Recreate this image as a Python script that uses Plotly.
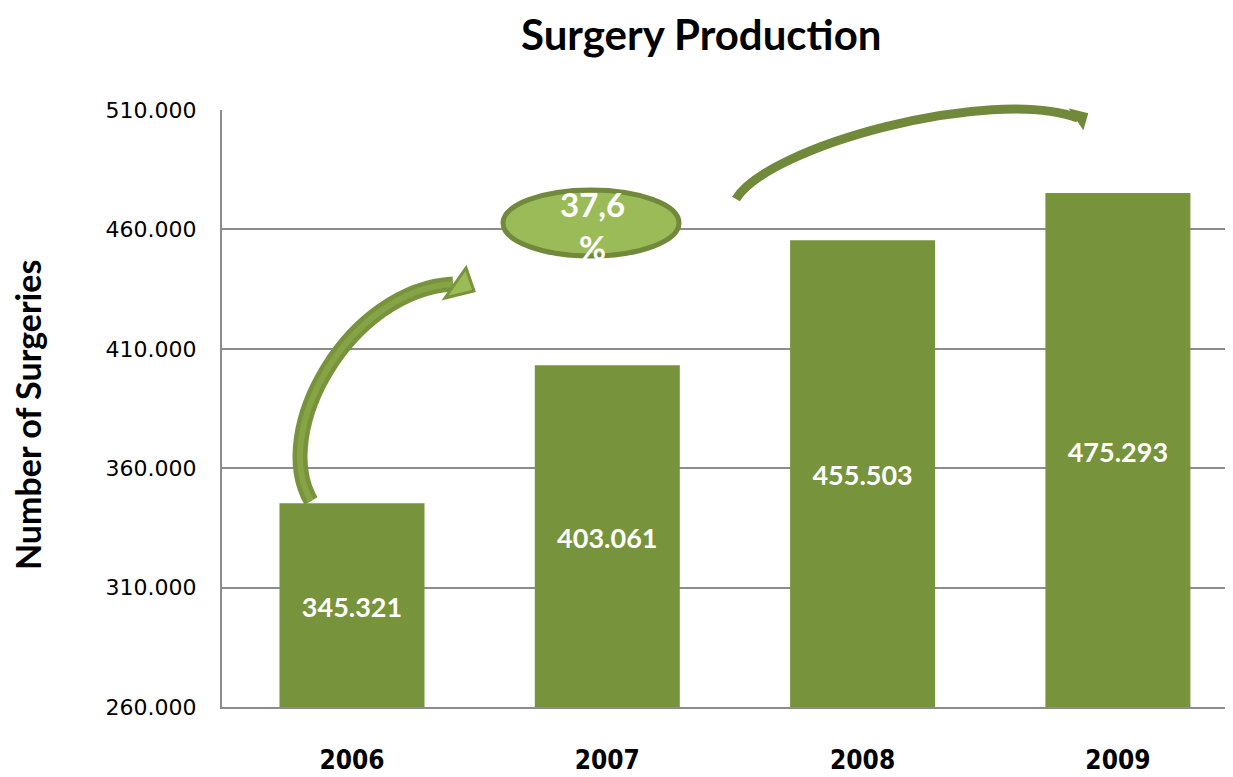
import plotly.graph_objects as go

years = ["2006", "2007", "2008", "2009"]
surgeries = [345321, 403061, 455503, 475293]
bar_labels = ["345.321", "403.061", "455.503", "475.293"]
tick_vals = [260000, 310000, 360000, 410000, 460000, 510000]
tick_text = ["260.000", "310.000", "360.000", "410.000", "460.000", "510.000"]
y_min, y_max = 260000, 510000
growth_label = "37,6<br>%"

# the page body has an 8px margin, so the figure is drawn offset by 8px
OFF = 8
W, H = 1233 - OFF, 777 - OFF
L, R, T, B = 222, 1230, 110, 707  # plot area in screenshot pixels

# category axis: slot width ~255 px, first category centred ~130 px right of the axis
CAT_W = 255.3
x_r0 = -130.0 / CAT_W
x_r1 = x_r0 + (R - L) / CAT_W

# value per pixel on the y axis (used to nudge the in-bar labels down a little)
Y_PER_PX = (y_max - y_min) / (B - T)

def px(X):
    return (X - L) / (R - L)

def py(Y):
    return (B - Y) / (B - T)

def pt(X, Y):
    return f"{px(X):.5f},{py(Y):.5f}"

BAR = "#77933C"
LIGHT = "#9BBB59"
DARK = "#71893A"

fig = go.Figure()
fig.add_trace(go.Bar(
    x=years, y=surgeries, width=145 / CAT_W, marker=dict(color=BAR, line=dict(width=0)),
    hoverinfo="x+y",
))
# value labels centred in each bar
fig.add_trace(go.Scatter(
    x=years, y=[(y_min + v) / 2 - 5 * Y_PER_PX for v in surgeries], mode="text", text=bar_labels,
    textposition="middle center", hoverinfo="skip",
    textfont=dict(family="Lato", size=27, color="white", weight="bold"),
))

shapes = []
# arrow 1 body
p1 = f"M {pt(311,501)} C {pt(270,430)} {pt(350,290)} {pt(453,284)}"
shapes.append(dict(type="path", path=p1, xref="paper", yref="paper",
                   line=dict(color=BAR, width=15), layer="above"))
shapes.append(dict(type="path", path=p1, xref="paper", yref="paper",
                   line=dict(color="#86A346", width=6), layer="above"))
shapes.append(dict(type="path", path=f"M {pt(466,268)} L {pt(474,291)} L {pt(445,298)} Z",
                   xref="paper", yref="paper", fillcolor=LIGHT,
                   line=dict(color=BAR, width=3), layer="above"))
# arrow 2
p2 = f"M {pt(736,199)} C {pt(768,146)} {pt(990,86)} {pt(1078,118)}"
shapes.append(dict(type="path", path=p2, xref="paper", yref="paper",
                   line=dict(color=DARK, width=9), layer="above"))
shapes.append(dict(type="path", path=f"M {pt(1071,110)} L {pt(1087,114)} L {pt(1083,128)} Z",
                   xref="paper", yref="paper", fillcolor=DARK,
                   line=dict(color=DARK, width=2), layer="above"))
# ellipse
shapes.append(dict(type="circle", xref="paper", yref="paper",
                   x0=px(503), x1=px(679), y0=py(256), y1=py(190),
                   fillcolor=LIGHT, line=dict(color=DARK, width=5), layer="above"))

annotations = [
    dict(text="<b>Surgery Production</b>", xref="paper", yref="paper", x=px(701), y=py(34),
         xanchor="center", yanchor="middle", showarrow=False,
         font=dict(family="Lato", size=42, color="black")),
    dict(text=growth_label, xref="paper", yref="paper", x=px(592), y=py(225),
         xanchor="center", yanchor="middle", showarrow=False,
         font=dict(family="Lato", size=33, color="white", weight="bold")),
    dict(text="Number of Surgeries", xref="paper", yref="paper", x=px(27), y=py(415),
         xanchor="center", yanchor="middle", showarrow=False, textangle=-90,
         font=dict(family="Lato", size=34, color="black", weight="bold")),
]

fig.update_layout(
    width=W, height=H,
    margin=dict(l=L - OFF, r=(W + OFF) - R, t=T - OFF, b=(H + OFF) - B, pad=0, autoexpand=False),
    paper_bgcolor="white", plot_bgcolor="white",
    showlegend=False,
    shapes=shapes, annotations=annotations,
)
fig.update_yaxes(range=[y_min, y_max], tickvals=tick_vals, ticktext=tick_text,
                 showgrid=True, gridcolor="#8C8C8C", gridwidth=2,
                 showline=True, linecolor="#8C8C8C", linewidth=2,
                 ticks="", ticklabelstandoff=19, zeroline=False, automargin=False,
                 tickfont=dict(family="DejaVu Sans", size=22, color="black"))
fig.update_xaxes(range=[x_r0, x_r1], showline=True, linecolor="#8C8C8C", linewidth=2, ticks="",
                 ticklabelstandoff=29, showgrid=False, automargin=False,
                 tickfont=dict(family="DejaVu Sans Condensed, Liberation Sans Narrow, Lato", size=26,
                               color="black", weight="bold"))

fig.write_html("out.html")
